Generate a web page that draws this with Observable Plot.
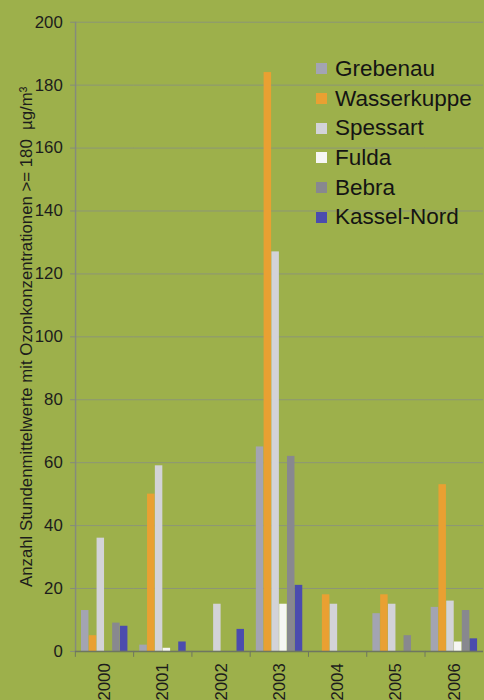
<!DOCTYPE html>
<html>
<head>
<meta charset="utf-8">
<script src="https://cdn.jsdelivr.net/npm/d3@7"></script>
<script src="https://cdn.jsdelivr.net/npm/@observablehq/plot@0.6"></script>
<style>
  html, body { margin: 0; padding: 0; overflow: hidden; background: #9db04b; width: 484px; height: 700px; }
  #wrap { position: relative; width: 484px; height: 700px; overflow: hidden; }
  #legend { position: absolute; left: 316px; top: 54px; font-family: "Liberation Sans", Arial, sans-serif; font-size: 22.5px; color: #141414; }
  #legend .row { display: flex; align-items: center; height: 29.7px; }
  #legend .sw { width: 11px; height: 11px; margin-right: 8px; }
</style>
</head>
<body>
<div id="wrap"><div id="legend"></div></div>
<script>
const years = ["2000", "2001", "2002", "2003", "2004", "2005", "2006"];
const series = ["Grebenau", "Wasserkuppe", "Spessart", "Fulda", "Bebra", "Kassel-Nord"];
const grebenau    = [13, 2, 0, 65, 0, 12, 14];
const wasserkuppe = [5, 50, 0, 184, 18, 18, 53];
const spessart    = [36, 59, 15, 127, 15, 15, 16];
const fulda       = [0, 1, 0, 15, 0, 0, 3];
const bebra       = [9, 0, 0, 62, 0, 5, 13];
const kasselNord  = [8, 3, 7, 21, 0, 0, 4];
const yTicks = [0, 20, 40, 60, 80, 100, 120, 140, 160, 180, 200];
const colors = ["#a3a4b2", "#e9a032", "#d3d3d8", "#f6f6f4", "#88888f", "#4b4cae"];
const yTitle = "Anzahl Stundenmittelwerte mit Ozonkonzentrationen >= 180  µg/m³";

const valuesBySeries = [grebenau, wasserkuppe, spessart, fulda, bebra, kasselNord];
const data = [];
years.forEach((year, i) => {
  series.forEach((s, j) => data.push({year, series: s, value: valuesBySeries[j][i]}));
});

const W = 490, ML = 74, MR = 0;
const bw = (W - ML - MR) / years.length;
const PI = 0.04, PO = 0.76;

function options(extra) {
  return {
    width: W, height: 700,
    marginLeft: ML, marginRight: MR, marginTop: 22, marginBottom: 41,
    style: {background: "transparent", fontFamily: "'Liberation Sans', Arial, sans-serif", color: "#1c1c1c", overflow: "visible"},
    fx: {domain: years, padding: 0, label: null, axis: null},
    x: {domain: series, axis: null, paddingInner: PI, paddingOuter: PO, round: false},
    y: {domain: [0, 200], label: null, axis: null},
    color: {domain: series, range: colors},
    marks: [
      Plot.ruleY(yTicks, {stroke: "#8c9577", strokeWidth: 1}),
      Plot.barY(data, {fx: "year", x: "series", y: "value", fill: "series"}),
      ...extra,
      Plot.ruleY([0], {stroke: "#6e7660", strokeWidth: 1.5}),
      Plot.axisY({ticks: yTicks, tickSize: 5, tickPadding: 8, fontSize: 17, stroke: "#858b7c", label: null}),
      Plot.axisY({ticks: [], tickSize: 0, label: yTitle, labelAnchor: "center", labelArrow: "none", labelOffset: 56, fontSize: 17}),
      Plot.axisFx({anchor: "bottom", tickSize: 0, tickRotate: -90, tickPadding: 12, fontSize: 17, label: null}),
      Plot.axisFx({anchor: "bottom", tickSize: 6, tickFormat: () => "", dx: -bw / 2, stroke: "#6e7660", label: null})
    ]
  };
}

// read the inner x scale Plot actually uses, to place the y-axis line at the first facet's left edge
let lineDx;
try {
  const probe = Plot.plot(options([]));
  const xs = probe.scale("x");
  lineDx = Math.min(...xs.range) - (xs.apply(series[0]) + xs.bandwidth / 2);
} catch (e) {
  const innerX = d3.scaleBand(series, [0, bw]).paddingInner(PI).paddingOuter(PO);
  lineDx = -(innerX(series[0]) + innerX.bandwidth() / 2);
}

const chart = Plot.plot(options([
  Plot.ruleX([years[0]], {fx: d => d, x: () => series[0], y1: 0, y2: 200, dx: lineDx, stroke: "#858b7c", strokeWidth: 1.5})
]));

const wrap = document.getElementById("wrap");
chart.style.position = "absolute";
chart.style.left = "0";
chart.style.top = "0";
wrap.insertBefore(chart, wrap.firstChild);

const legend = document.getElementById("legend");
series.forEach((s, i) => {
  const row = document.createElement("div");
  row.className = "row";
  const sw = document.createElement("div");
  sw.className = "sw";
  sw.style.background = colors[i];
  const t = document.createElement("span");
  t.textContent = s;
  row.appendChild(sw);
  row.appendChild(t);
  legend.appendChild(row);
});
</script>
</body>
</html>
